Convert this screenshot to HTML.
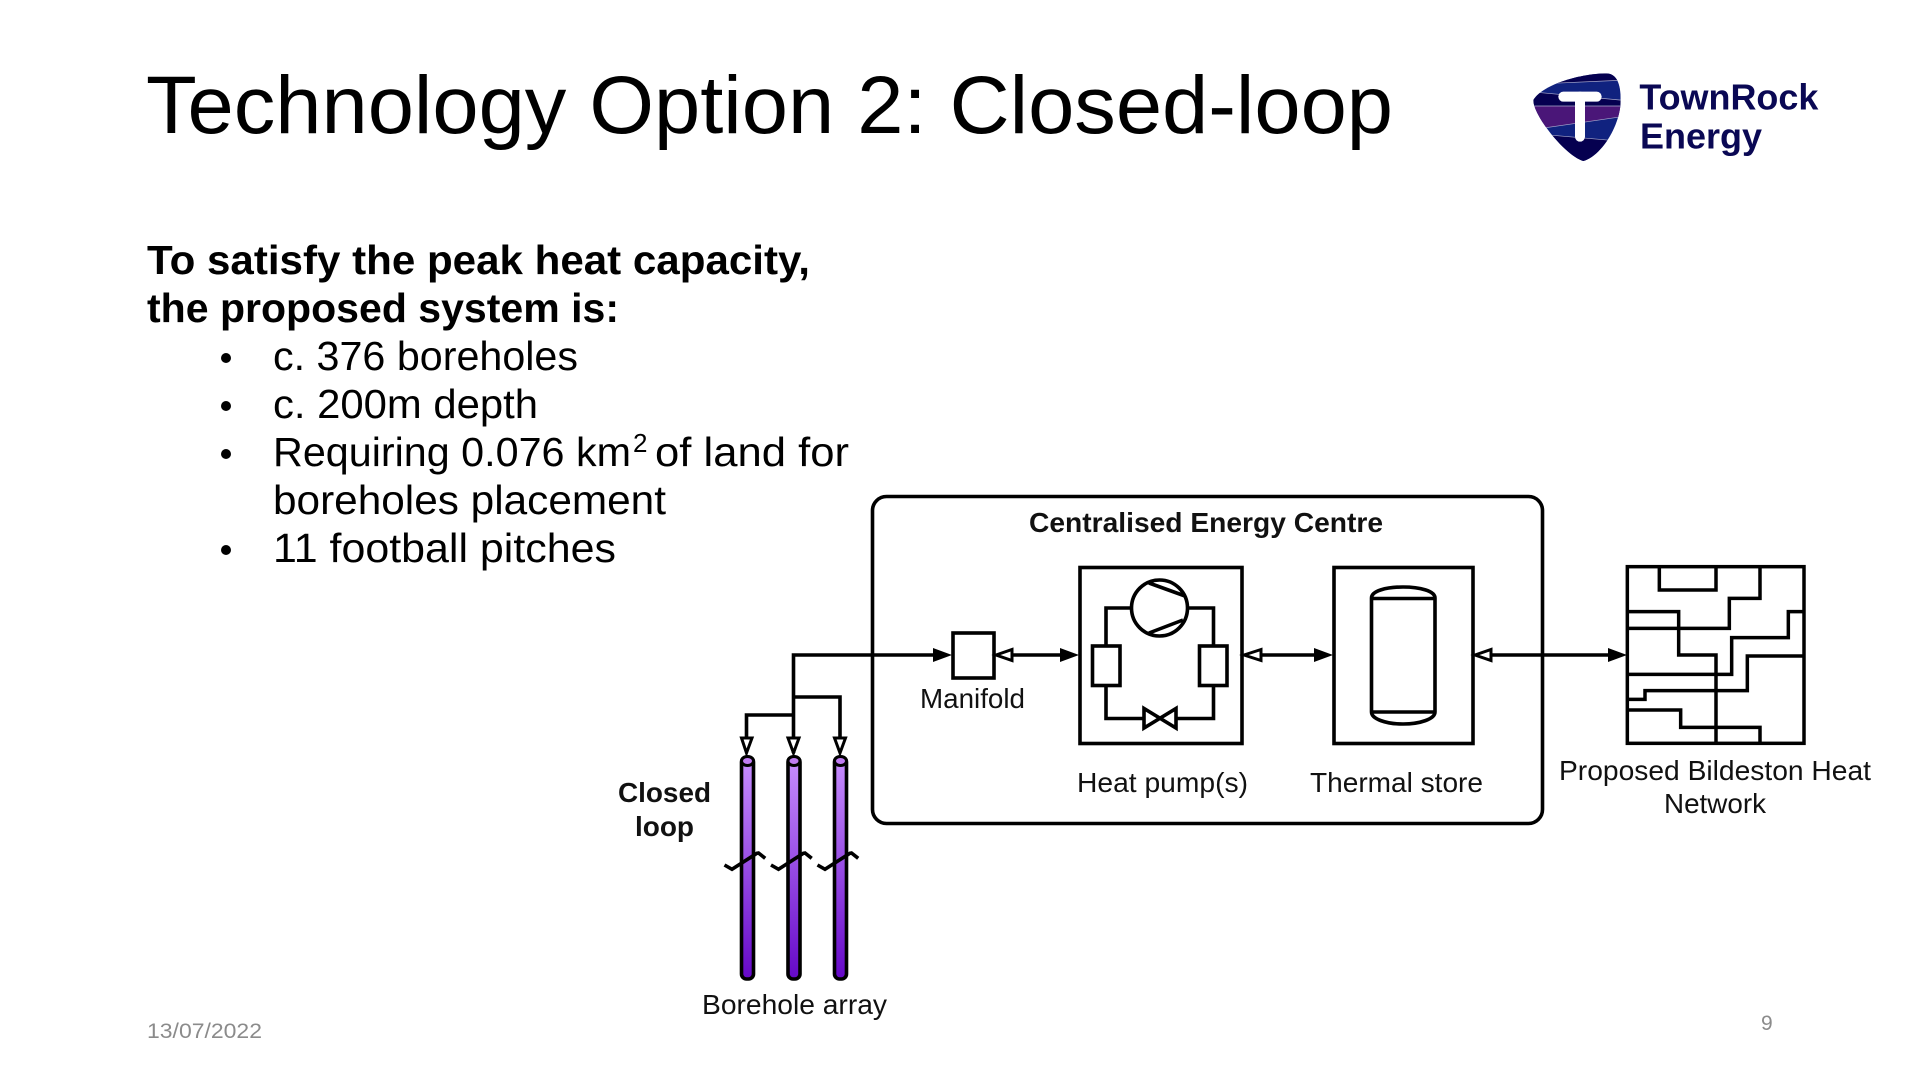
<!DOCTYPE html>
<html lang="en">
<head>
<meta charset="utf-8">
<title>Technology Option 2: Closed-loop</title>
<style>
html,body{margin:0;padding:0;background:#fff;width:1920px;height:1080px;overflow:hidden}
svg{display:block}
.s{font-family:"Liberation Sans",sans-serif;fill:#000}
.d{font-family:"Liberation Sans",sans-serif;font-size:27.5px;fill:#111}
.b{font-weight:bold}
.l{stroke:#000;stroke-width:3.6;fill:none}
</style>
</head>
<body>
<svg width="1920" height="1080" viewBox="0 0 1920 1080" xmlns="http://www.w3.org/2000/svg">
<defs>
<linearGradient id="g" x1="0" y1="0" x2="0" y2="1"><stop offset="0" stop-color="#c88fff"/><stop offset="1" stop-color="#6508c8"/></linearGradient>
<clipPath id="sh"><path d="M100 150C130 100 250 70 320 70C350 72 362 100 362 150C362 230 300 320 250 333C200 320 100 200 100 150Z"/></clipPath>
<g id="tube">
<rect x="-6" y="757" width="12" height="222" rx="5" fill="url(#g)" stroke="#000" stroke-width="3.6"/>
<ellipse cx="0" cy="761" rx="6" ry="4.5" fill="#c07cf2" stroke="#000" stroke-width="3"/>
<path d="M-23 865L-15.500 869.300L9.300 853.300L11 853L17.700 858.300" class="l" stroke-width="3"/>
</g>
</defs>
<rect width="1920" height="1080" fill="#fff"/>

<text class="s" x="146" y="133" font-size="82" textLength="1247" lengthAdjust="spacingAndGlyphs">Technology Option 2: Closed-loop</text>

<text class="s b" x="147" y="274" font-size="41" textLength="663" lengthAdjust="spacingAndGlyphs">To satisfy the peak heat capacity,</text>
<text class="s b" x="147" y="322" font-size="41" textLength="472" lengthAdjust="spacingAndGlyphs">the proposed system is:</text>
<g font-size="41">
<circle cx="226" cy="358" r="5"/><circle cx="226" cy="406" r="5"/><circle cx="226" cy="454" r="5"/><circle cx="226" cy="550" r="5"/>
<text class="s" x="273" y="370" textLength="305" lengthAdjust="spacingAndGlyphs">c. 376 boreholes</text>
<text class="s" x="273" y="418" textLength="265" lengthAdjust="spacingAndGlyphs">c. 200m depth</text>
<text class="s" x="273" y="466" textLength="358" lengthAdjust="spacingAndGlyphs">Requiring 0.076 km</text>
<text class="s" x="633" y="452" font-size="26">2</text>
<text class="s" x="655" y="466" textLength="194" lengthAdjust="spacingAndGlyphs">of land for</text>
<text class="s" x="273" y="514" textLength="393" lengthAdjust="spacingAndGlyphs">boreholes placement</text>
<text class="s" x="273" y="562" textLength="343" lengthAdjust="spacingAndGlyphs">11 football pitches</text>
</g>
<text x="147" y="1038" font-family="Liberation Sans,sans-serif" font-size="21" fill="#8b8b8b" textLength="115" lengthAdjust="spacingAndGlyphs">13/07/2022</text>
<text x="1761" y="1030" font-family="Liberation Sans,sans-serif" font-size="21" fill="#8b8b8b">9</text>

<!-- logo -->
<g transform="translate(1500 50) scale(.33333)">
<g clip-path="url(#sh)">
<rect x="90" y="60" width="290" height="280" fill="#10227f"/>
<polygon points="90,60 380,60 380,90 90,103" fill="#050050"/>
<polygon points="90,125 380,152 380,168 90,168" fill="#050050"/>
<polygon points="90,168 380,168 380,198 90,240" fill="#4a1678"/>
<polygon points="90,250 380,275 380,340 90,340" fill="#050050"/>
<path d="M90 103L380 90M90 125L380 152M90 168H380M90 240L380 198M90 250L380 275" stroke="#a9a9cc" stroke-width="2" fill="none"/>
</g>
<rect x="175" y="125" width="130" height="30" rx="15" fill="#fff"/>
<rect x="225" y="125" width="30" height="150" rx="15" fill="#fff"/>
<g font-family="Liberation Sans,sans-serif" font-weight="bold" font-size="108" fill="#0a0854">
<text x="418" y="178" textLength="537" lengthAdjust="spacingAndGlyphs">TownRock</text>
<text x="420" y="296" textLength="366" lengthAdjust="spacingAndGlyphs">Energy</text>
</g>
</g>

<!-- energy centre -->
<rect x="872.500" y="496.500" width="670" height="327" rx="14" class="l"/>
<text class="d b" x="1029" y="532" textLength="354" lengthAdjust="spacingAndGlyphs">Centralised Energy Centre</text>

<!-- main connectors -->
<path d="M793.500 753V655H936M746.500 741V715H793.500M840 741V697H793.500M793.500 741V655M1010 655H1064M1259 655H1318M1490 655H1610" class="l"/>

<!-- manifold -->
<rect x="953" y="633" width="41" height="45" class="l"/>
<text class="d" x="920" y="708" textLength="105" lengthAdjust="spacingAndGlyphs">Manifold</text>

<!-- heat pump -->
<rect x="1080" y="567.500" width="162" height="176" class="l"/>
<path d="M1106 646V608H1131M1188 608H1213.500V646M1106 686V718.500H1144M1175 718.500H1213.500V686" class="l"/>
<circle cx="1159.500" cy="608" r="28" class="l"/>
<path d="M1149 583L1185 596M1149 633L1183 620" class="l"/>
<rect x="1092.500" y="646" width="27.500" height="39.500" class="l"/>
<rect x="1199.500" y="646" width="27.500" height="39.500" class="l"/>
<path d="M1144 708.500V728L1176 708.500V728Z" class="l" fill="#fff"/>
<text class="d" x="1077" y="792" textLength="171" lengthAdjust="spacingAndGlyphs">Heat pump(s)</text>

<!-- thermal store -->
<rect x="1334" y="567.500" width="139" height="176" class="l"/>
<path d="M1371.500 598V712C1371.500 719 1386 724 1403 724C1420 724 1435 719 1435 712V598C1435 591 1420 587 1403 587C1386 587 1371.500 591 1371.500 598Z" class="l"/>
<path d="M1371.500 598.500H1435M1371.500 712H1435" class="l"/>
<text class="d" x="1310" y="792" textLength="173" lengthAdjust="spacingAndGlyphs">Thermal store</text>

<!-- network -->
<g transform="translate(1600 550) scale(.33333)" fill="none" stroke="#000" stroke-width="10.500">
<rect x="82" y="50" width="530" height="530"/>
<path d="M178 50V120H348V50M480 50V145H388V235H82M82 185H236V315H348V580M608 185H565V263H395V373H82M608 318H442V422H135V448H82M82 480H242V532H480V580"/>
</g>
<text class="d" x="1559" y="780" textLength="312" lengthAdjust="spacingAndGlyphs">Proposed Bildeston Heat</text>
<text class="d" x="1664" y="813" textLength="102" lengthAdjust="spacingAndGlyphs">Network</text>

<!-- arrowheads: filled -->
<g fill="#000">
<polygon points="933,648 952,655 933,662"/>
<polygon points="1060,648 1079,655 1060,662"/>
<polygon points="1314,648 1333,655 1314,662"/>
<polygon points="1608,648 1627,655 1608,662"/>
</g>
<!-- arrowheads: hollow -->
<g fill="#fff" stroke="#000" stroke-width="3">
<polygon points="996,655 1012,649.500 1012,660.500"/>
<polygon points="1244,655 1261,649.500 1261,660.500"/>
<polygon points="1475,655 1491,649.500 1491,660.500"/>
<polygon points="741.500,738 752,738 746.500,753"/>
<polygon points="788,738 799,738 793.500,753"/>
<polygon points="834.500,738 845.500,738 840,753"/>
</g>

<!-- boreholes -->
<use href="#tube" x="747.500"/>
<use href="#tube" x="794"/>
<use href="#tube" x="840.500"/>
<text class="d b" x="618" y="802" textLength="93" lengthAdjust="spacingAndGlyphs">Closed</text>
<text class="d b" x="635" y="836" textLength="59" lengthAdjust="spacingAndGlyphs">loop</text>
<text class="d" x="702" y="1014" textLength="185" lengthAdjust="spacingAndGlyphs">Borehole array</text>
</svg>
</body>
</html>
